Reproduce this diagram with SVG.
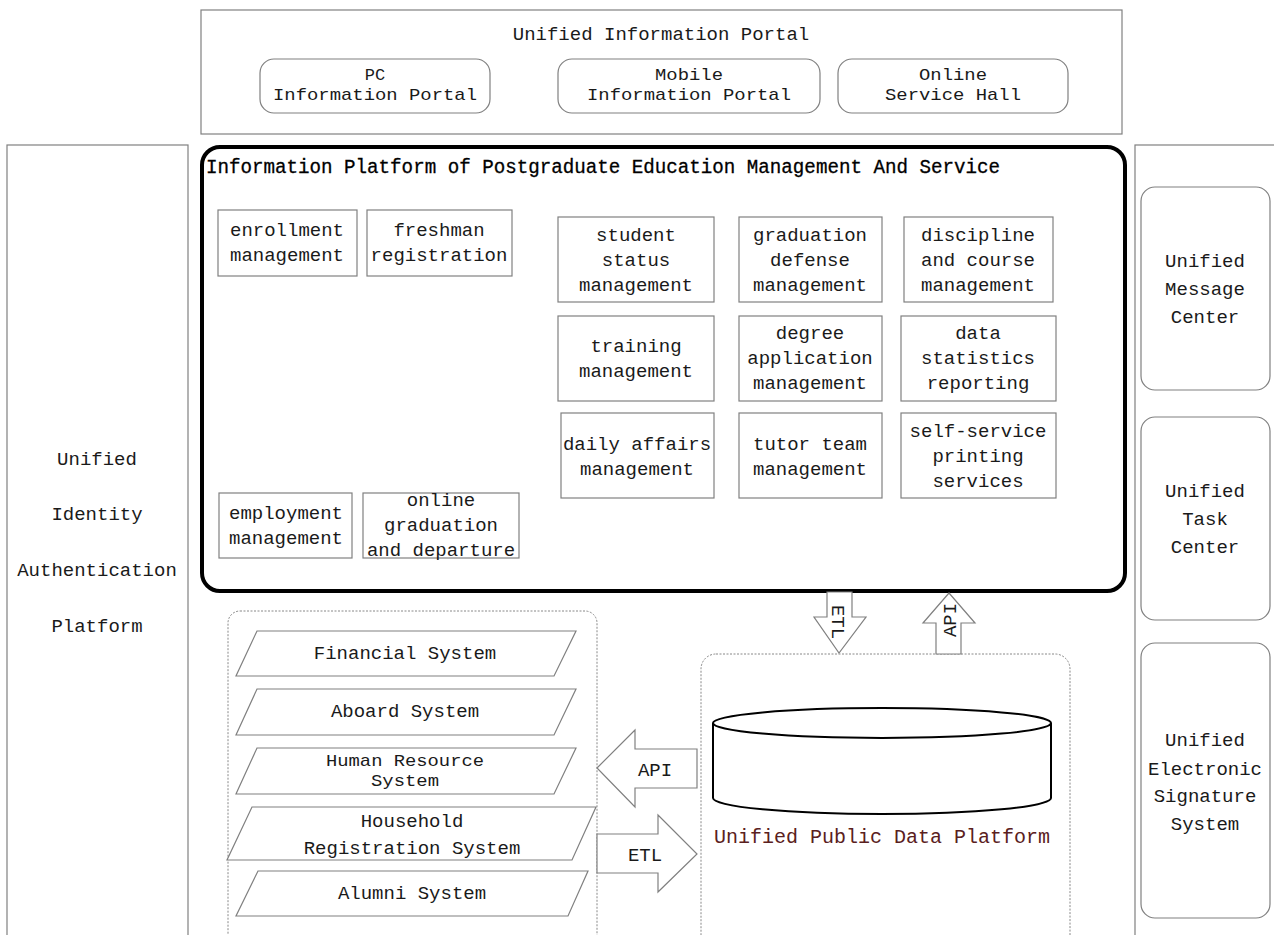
<svg xmlns="http://www.w3.org/2000/svg" width="1274" height="935" viewBox="0 0 1274 935">
<style>
text{font-family:"Liberation Mono","DejaVu Sans Mono",monospace;font-size:19px;fill:#1a1a1a;text-anchor:middle}
.sm{font-size:17px}
.box{fill:#fff;stroke:#808080;stroke-width:1.2}
.dash{fill:none;stroke:#888;stroke-width:1;stroke-dasharray:2 1.5}
.arr{fill:#fff;stroke:#808080;stroke-width:1.2}
</style>
<rect width="1274" height="935" fill="#fff"/>
<g id="portal">
<rect class="box" x="201" y="10" width="921" height="124"/>
<text x="661" y="40">Unified Information Portal</text>
</g>
<g id="pc-portal">
<rect class="box" x="260" y="59" width="230" height="54" rx="14"/>
<text class="sm" x="375" y="80">PC</text><text class="sm" x="375" y="100" textLength="204" lengthAdjust="spacingAndGlyphs">Information Portal</text>
</g>
<g id="mobile-portal">
<rect class="box" x="558" y="59" width="262" height="54" rx="14"/>
<text class="sm" x="689" y="80" textLength="68" lengthAdjust="spacingAndGlyphs">Mobile</text><text class="sm" x="689" y="100" textLength="204" lengthAdjust="spacingAndGlyphs">Information Portal</text>
</g>
<g id="service-hall">
<rect class="box" x="838" y="59" width="230" height="54" rx="14"/>
<text class="sm" x="953" y="80" textLength="68" lengthAdjust="spacingAndGlyphs">Online</text><text class="sm" x="953" y="100" textLength="136" lengthAdjust="spacingAndGlyphs">Service Hall</text>
</g>
<g id="auth-platform">
<rect class="box" x="7" y="145" width="181" height="800"/>
<text x="97" y="465">Unified</text>
<text x="97" y="520">Identity</text>
<text x="97" y="576">Authentication</text>
<text x="97" y="632">Platform</text>
</g>
<g id="right-column">
<rect class="box" x="1135" y="145" width="150" height="800"/>
</g>
<g id="message-center">
<rect class="box" x="1141" y="187" width="129" height="203" rx="14"/>
<text x="1205" y="267">Unified</text><text x="1205" y="295">Message</text><text x="1205" y="323">Center</text>
</g>
<g id="task-center">
<rect class="box" x="1141" y="417" width="129" height="203" rx="14"/>
<text x="1205" y="497">Unified</text><text x="1205" y="525">Task</text><text x="1205" y="553">Center</text>
</g>
<g id="signature-system">
<rect class="box" x="1141" y="643" width="129" height="275" rx="14"/>
<text x="1205" y="746">Unified</text><text x="1205" y="775">Electronic</text><text x="1205" y="802">Signature</text><text x="1205" y="830">System</text>
</g>
<g id="platform">
<rect x="202" y="147" width="923" height="444" rx="18" fill="none" stroke="#000" stroke-width="4"/>
<text x="206" y="173" style="text-anchor:start;font-size:20px;fill:#000;stroke:#000;stroke-width:0.3" textLength="794" lengthAdjust="spacingAndGlyphs">Information Platform of Postgraduate Education Management And Service</text>
</g>
<g id="enrollment"><rect class="box" x="218" y="210" width="139" height="66"/><text x="287" y="236">enrollment</text><text x="287" y="261">management</text></g>
<g id="freshman"><rect class="box" x="367" y="210" width="145" height="66"/><text x="439" y="236">freshman</text><text x="439" y="261">registration</text></g>
<g id="student-status"><rect class="box" x="558" y="217" width="156" height="85"/><text x="636" y="241">student</text><text x="636" y="266">status</text><text x="636" y="291">management</text></g>
<g id="graduation-defense"><rect class="box" x="739" y="217" width="143" height="85"/><text x="810" y="241">graduation</text><text x="810" y="266">defense</text><text x="810" y="291">management</text></g>
<g id="discipline-course"><rect class="box" x="904" y="217" width="149" height="85"/><text x="978" y="241">discipline</text><text x="978" y="266">and course</text><text x="978" y="291">management</text></g>
<g id="training"><rect class="box" x="558" y="316" width="156" height="85"/><text x="636" y="352">training</text><text x="636" y="377">management</text></g>
<g id="degree-application"><rect class="box" x="739" y="316" width="143" height="85"/><text x="810" y="339">degree</text><text x="810" y="364">application</text><text x="810" y="389">management</text></g>
<g id="data-statistics"><rect class="box" x="901" y="316" width="155" height="85"/><text x="978" y="339">data</text><text x="978" y="364">statistics</text><text x="978" y="389">reporting</text></g>
<g id="daily-affairs"><rect class="box" x="561" y="413" width="153" height="85"/><text x="637" y="450">daily affairs</text><text x="637" y="475">management</text></g>
<g id="tutor-team"><rect class="box" x="739" y="413" width="143" height="85"/><text x="810" y="450">tutor team</text><text x="810" y="475">management</text></g>
<g id="self-service"><rect class="box" x="901" y="413" width="155" height="85"/><text x="978" y="437">self-service</text><text x="978" y="462">printing</text><text x="978" y="487">services</text></g>
<g id="employment"><rect class="box" x="219" y="493" width="133" height="65"/><text x="286" y="519">employment</text><text x="286" y="544">management</text></g>
<g id="online-graduation"><rect class="box" x="363" y="493" width="156" height="65"/><text x="441" y="506">online</text><text x="441" y="531">graduation</text><text x="441" y="556">and departure</text></g>
<g id="external-systems">
<rect class="dash" x="228" y="611" width="369" height="340" rx="12"/>
</g>
<g id="financial"><polygon class="box" points="257,631 576,631 554,676 236,676"/><text x="405" y="659">Financial System</text></g>
<g id="aboard"><polygon class="box" points="257,689 576,689 554,735 236,735"/><text x="405" y="717">Aboard System</text></g>
<g id="human-resource"><polygon class="box" points="257,748 576,748 554,794 236,794"/><text class="sm" x="405" y="766" textLength="158" lengthAdjust="spacingAndGlyphs">Human Resource</text><text class="sm" x="405" y="786" textLength="68" lengthAdjust="spacingAndGlyphs">System</text></g>
<g id="household"><polygon class="box" points="252,807 596,807 572,860 227,860"/><text x="412" y="827">Household</text><text x="412" y="854">Registration System</text></g>
<g id="alumni"><polygon class="box" points="258,871 588,871 568,916 236,916"/><text x="412" y="899">Alumni System</text></g>
<g id="data-platform">
<rect class="dash" x="701" y="654" width="369" height="300" rx="15"/>
<path d="M713,723 L713,798 A169,16 0 0 0 1051,798 L1051,723" fill="#fff" stroke="#000" stroke-width="2"/>
<ellipse cx="882" cy="723" rx="169" ry="15" fill="#fff" stroke="#000" stroke-width="2"/>
<text x="882" y="843" style="fill:#5a2020;font-size:20px">Unified Public Data Platform</text>
</g>
<g id="connectors">
<polygon class="arr" points="597,768 635,730 635,749 697,749 697,788 635,788 635,807"/>
<text x="655" y="776">API</text>
<polygon class="arr" points="597,834 658,834 658,815 697,854 658,892 658,873 597,873"/>
<text x="645" y="861">ETL</text>
<polygon class="arr" points="827,592 852,592 852,617 866,617 839,653 814,617 827,617"/>
<text transform="translate(839,622) rotate(90)" y="7">ETL</text>
<polygon class="arr" points="949,593 975,623 961,623 961,654 936,654 936,623 923,623"/>
<text transform="translate(949,620) rotate(-90)" y="7">API</text>
</g>
</svg>
